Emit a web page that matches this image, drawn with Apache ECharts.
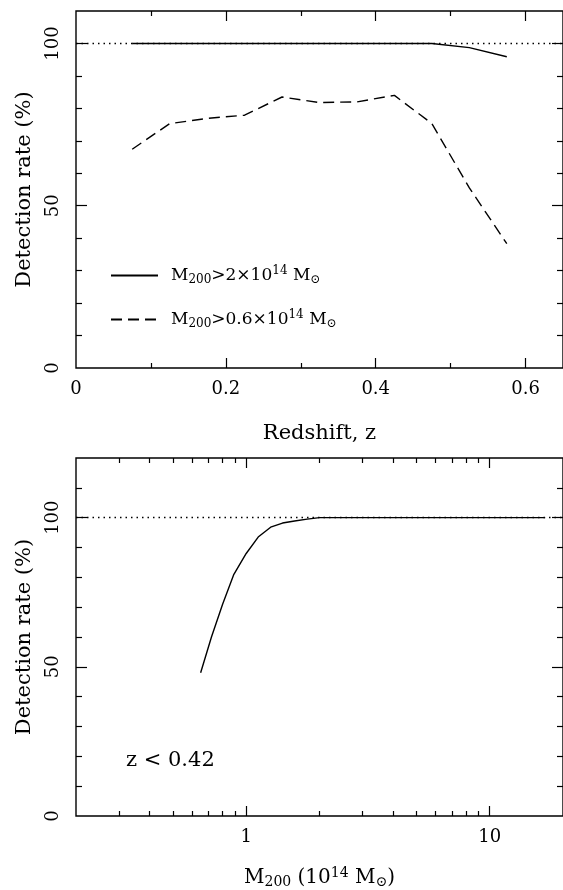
<!DOCTYPE html>
<html>
<head>
<meta charset="utf-8">
<script src="https://cdn.jsdelivr.net/npm/echarts@6/dist/echarts.min.js"></script>
<style>
  html, body { margin: 0; padding: 0; background: #fff; }
  #chart { width: 563px; height: 890px; }
</style>
</head>
<body>
<div id="chart"></div>
<script>
// top panel: detection rate vs redshift
var zBins = [0.075, 0.125, 0.175, 0.225, 0.275, 0.325, 0.375, 0.425, 0.475, 0.525, 0.575];
var rateHigh = [100, 100, 100, 100, 100, 100, 100, 100, 100, 98.7, 95.9];
var rateLow = [67.4, 75.3, 76.9, 77.9, 83.5, 81.8, 82.0, 84.0, 75.3, 55.5, 38.3];
// bottom panel: detection rate vs mass (z < 0.42)
var massBins = [0.65, 0.72, 0.80, 0.89, 1.0, 1.12, 1.26, 1.41, 1.58, 1.78, 2.0, 2.24, 16.9];
var rateMass = [48, 60, 71, 81, 88, 93.5, 96.8, 98.2, 98.9, 99.5, 100, 100, 100];
var refLine = [100];

var zLabels = [0, 0.2, 0.4, 0.6];
var zMajor = [0.2, 0.4, 0.6];
var zMinor = [0.1, 0.3, 0.5];
var mMajor = [1, 10];
var mMinor = [0.3, 0.4, 0.5, 0.6, 0.7, 0.8, 0.9, 2, 3, 4, 5, 6, 7, 8, 9];
var yLabels = [0, 50, 100];
var yMajor = [50, 100];
var yMinorTop = [10, 20, 30, 40, 60, 70, 80, 90];
var yMinorBot = [10, 20, 30, 40, 60, 70, 80, 90, 110];

var FONT = 'DejaVu Serif';
function richSub(size) {
    return {
        sub: { fontFamily: FONT, fontSize: Math.round(size * 0.68), verticalAlign: 'bottom', padding: [9, 0, 0, 0], color: '#000' },
        sup: { fontFamily: FONT, fontSize: Math.round(size * 0.68), verticalAlign: 'top', padding: [0, 0, 9, 0], color: '#000' },
        t: { fontFamily: FONT, fontSize: size, color: '#000' }
    };
}

function pair(xs, ys) {
    var out = [];
    for (var i = 0; i < xs.length; i++) out.push([xs[i], ys[i]]);
    return out;
}

// tick-only axis used for major/minor ticks on all four sides
function tickAxis(grid, pos, type, min, max, vals, len) {
    var ax = {
        gridIndex: grid, position: pos, type: type, min: min, max: max,
        axisLine: { show: false, onZero: false },
        axisTick: { show: true, inside: true, length: len, customValues: vals,
            lineStyle: { color: '#000', width: 1.2 } },
        axisLabel: { show: false },
        splitLine: { show: false }
    };
    if (type == 'log') ax.logBase = 10;
    return ax;
}

var myChart = echarts.init(document.getElementById('chart'));

// x axes
var xAxes = [];
var xMain0 = tickAxis(0, 'bottom', 'value', 0, 0.65, zMajor, 10);
xMain0.axisLabel = { show: true, customValues: zLabels, margin: 12,
    fontFamily: FONT, fontSize: 18, color: '#000',
    formatter: function (v) { return v === 0 ? '0' : String(v); } };
xMain0.name = 'Redshift, z';
xMain0.nameLocation = 'middle';
xMain0.nameGap = 55;
xMain0.nameTextStyle = { fontFamily: FONT, fontSize: 21, color: '#000' };
xAxes.push(xMain0);
xAxes.push(tickAxis(0, 'bottom', 'value', 0, 0.65, zMinor, 5));
xAxes.push(tickAxis(0, 'top', 'value', 0, 0.65, zMajor, 10));
xAxes.push(tickAxis(0, 'top', 'value', 0, 0.65, zMinor, 5));

var xMain1 = tickAxis(1, 'bottom', 'log', 0.2, 20, mMajor, 10);
xMain1.axisLabel = { show: true, customValues: mMajor, margin: 12,
    fontFamily: FONT, fontSize: 18, color: '#000' };
xMain1.name = '{t|M}{sub|200}{t| (10}{sup|14}{t| M}{sub|⊙}{t|)}';
xMain1.nameLocation = 'middle';
xMain1.nameGap = 50;
xMain1.nameTextStyle = { fontFamily: FONT, fontSize: 20, color: '#000', rich: richSub(20) };
xAxes.push(xMain1);
xAxes.push(tickAxis(1, 'bottom', 'log', 0.2, 20, mMinor, 5));
xAxes.push(tickAxis(1, 'top', 'log', 0.2, 20, mMajor, 10));
xAxes.push(tickAxis(1, 'top', 'log', 0.2, 20, mMinor, 5));

// y axes
var yAxes = [];
function yMain(grid, max) {
    var ax = tickAxis(grid, 'left', 'value', 0, max, yMajor, 11);
    ax.axisLabel = { show: true, customValues: yLabels, rotate: 90, margin: 14,
        fontFamily: FONT, fontSize: 18, color: '#000' };
    ax.name = 'Detection rate (%)';
    ax.nameLocation = 'middle';
    ax.nameRotate = 90;
    ax.nameGap = 41;
    ax.nameTextStyle = { fontFamily: FONT, fontSize: 21, color: '#000' };
    return ax;
}
yAxes.push(yMain(0, 110));
yAxes.push(tickAxis(0, 'left', 'value', 0, 110, yMinorTop, 6));
yAxes.push(tickAxis(0, 'right', 'value', 0, 110, yMajor, 11));
yAxes.push(tickAxis(0, 'right', 'value', 0, 110, yMinorTop, 6));
yAxes.push(yMain(1, 120));
yAxes.push(tickAxis(1, 'left', 'value', 0, 120, yMinorBot, 6));
yAxes.push(tickAxis(1, 'right', 'value', 0, 120, yMajor, 11));
yAxes.push(tickAxis(1, 'right', 'value', 0, 120, yMinorBot, 6));

var dotted = {
    silent: true, symbol: 'none', label: { show: false },
    lineStyle: { color: '#000', type: [1.5, 4], width: 1.3 },
    data: [{ yAxis: refLine[0] }]
};

var legendNames = {
    high: '{t|M}{sub|200}{t|>2×10}{sup|14}{t| M}{sub|⊙}',
    low: '{t|M}{sub|200}{t|>0.6×10}{sup|14}{t| M}{sub|⊙}'
};

option = {
    backgroundColor: '#fff',
    animation: false,
    grid: [
        { left: 76, right: 0, top: 11, height: 357, show: true, borderColor: '#000', borderWidth: 1.4 },
        { left: 76, right: 0, top: 458, height: 361, show: true, borderColor: '#000', borderWidth: 1.4 }
    ],
    legend: {
        data: ['high', 'low'],
        orient: 'vertical',
        left: 105,
        top: 260,
        itemWidth: 47,
        itemHeight: 14,
        itemGap: 23,
        itemStyle: { opacity: 0 },
        formatter: function (n) { return legendNames[n]; },
        textStyle: { fontFamily: FONT, fontSize: 17, color: '#000', padding: [0, 0, 0, 8], rich: richSub(17) }
    },
    xAxis: xAxes,
    yAxis: yAxes,
    graphic: [{
        type: 'text', left: 126, top: 750,
        style: { text: 'z < 0.42', fontFamily: FONT, fontSize: 21, fill: '#000' }
    }],
    series: [
        {
            name: 'high', type: 'line', xAxisIndex: 0, yAxisIndex: 0,
            data: pair(zBins, rateHigh), symbol: 'none',
            lineStyle: { color: '#000', width: 1.4, type: 'solid' },
            itemStyle: { color: 'rgba(0,0,0,0)' },
            markLine: dotted
        },
        {
            name: 'low', type: 'line', xAxisIndex: 0, yAxisIndex: 0,
            data: pair(zBins, rateLow), symbol: 'none',
            lineStyle: { color: '#000', width: 1.4, type: [11, 6] },
            itemStyle: { color: 'rgba(0,0,0,0)' }
        },
        {
            name: 'mass', type: 'line', xAxisIndex: 4, yAxisIndex: 4,
            data: pair(massBins, rateMass), symbol: 'none',
            lineStyle: { color: '#000', width: 1.4, type: 'solid' },
            itemStyle: { color: 'rgba(0,0,0,0)' },
            markLine: dotted
        }
    ]
};
myChart.setOption(option);
</script>
</body>
</html>
